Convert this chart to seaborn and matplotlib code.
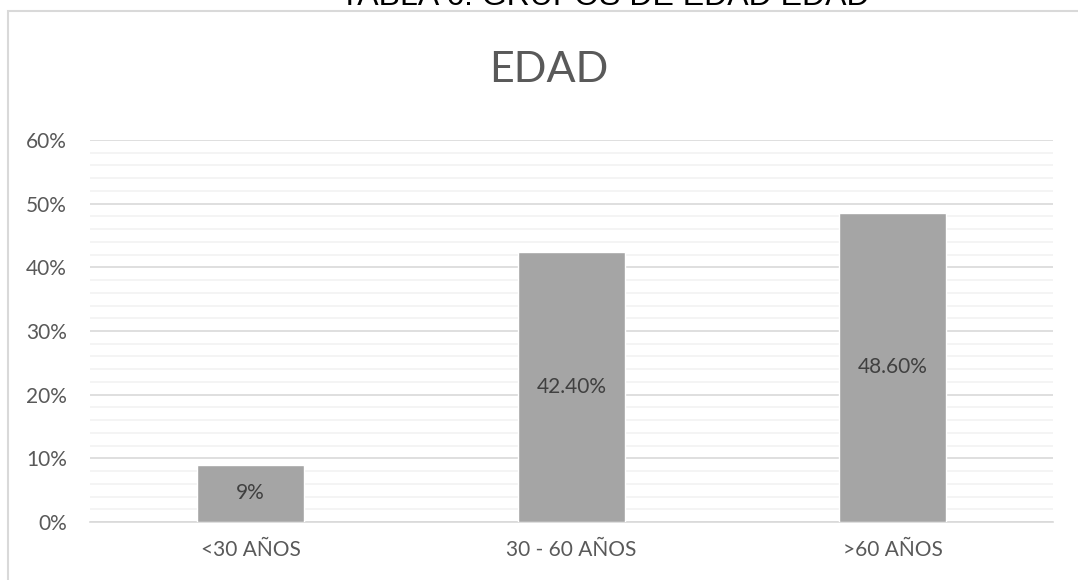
import matplotlib
matplotlib.use("Agg")
import matplotlib.pyplot as plt
import seaborn as sns
import pandas as pd
from matplotlib.patches import Rectangle
from matplotlib.ticker import MultipleLocator, FuncFormatter

categories = ["<30 AÑOS", "30 - 60 AÑOS", ">60 AÑOS"]
values = [9.0, 42.4, 48.6]
labels = ["9%", "42.40%", "48.60%"]

sns.set_theme(style="white")
plt.rcParams['font.family'] = ['Lato', 'DejaVu Sans']

df = pd.DataFrame({"cat": categories, "val": values})

fig = plt.figure(figsize=(10.78, 5.8), dpi=100)
ax = fig.add_axes([90/1078, 58/580, 963/1078, 382/580])

sns.barplot(data=df, x="cat", y="val", color="#a5a5a5", width=0.333,
            saturation=1, ax=ax, zorder=3)

ax.set_ylim(0, 60)
ax.set_xlim(-0.5, 2.5)
ax.yaxis.set_major_locator(MultipleLocator(10))
ax.yaxis.set_minor_locator(MultipleLocator(2))
ax.yaxis.set_major_formatter(FuncFormatter(lambda v, p: f"{v:.0f}%"))
ax.grid(axis="y", which="major", color="#d9d9d9", linewidth=1.2, zorder=0)
ax.grid(axis="y", which="minor", color="#f2f2f2", linewidth=1.2, zorder=0)
ax.set_axisbelow(True)
for s in ["top", "right", "left"]:
    ax.spines[s].set_visible(False)
ax.spines["bottom"].set_color("#d9d9d9")
ax.spines["bottom"].set_linewidth(1.2)
ax.tick_params(axis="both", which="both", length=0, labelsize=15, colors="#595959")
ax.tick_params(axis="y", pad=16.5)
ax.tick_params(axis="x", pad=13)
ax.set_xlabel("")
ax.set_ylabel("")

for p, lab in zip(ax.patches, labels):
    ax.text(p.get_x() + p.get_width()/2, p.get_height()/2, lab,
            ha="center", va="center", fontsize=15, color="#404040", zorder=4)

fig.text(549/1078, 1 - 70/580, "EDAD", ha="center", va="center",
         fontsize=31, color="#595959", fontweight="normal")
fig.text(605/1078, 1 - 5/580, "TABLA 6. GRUPOS DE EDAD EDAD", ha="center",
         va="baseline", fontsize=23, color="#000000", family=["Liberation Sans", "DejaVu Sans"])

fig.patches.append(Rectangle((8/1078, -0.1), 1.2, 1 - 11/580 + 0.1,
                             transform=fig.transFigure, fill=False,
                             edgecolor="#d9d9d9", linewidth=1.5))

fig.savefig("out.png", dpi=100, facecolor="white")
